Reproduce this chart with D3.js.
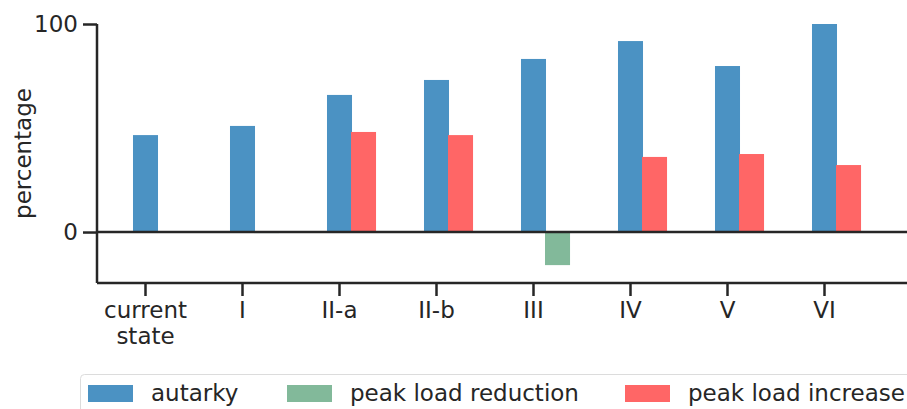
<!DOCTYPE html>
<html>
<head>
<meta charset="utf-8">
<script src="https://cdn.jsdelivr.net/npm/d3@7"></script>
<style>
  body { margin: 0; background: #fff; }
  svg { display: block; }
  svg text { font-family: "DejaVu Sans", sans-serif; }
</style>
</head>
<body>
<div id="vis"></div>
<script>
// scenario labels (x axis)
var scenarios = ['current state', 'I', 'II-a', 'II-b', 'III', 'IV', 'V', 'VI'];
// values, in percent
var autarky = [46.6, 51, 65.9, 73.1, 83.2, 91.8, 79.8, 100];
var peakLoadReduction = [null, -0.5, null, null, -15.9, null, null, null];
var peakLoadIncrease = [null, null, 48.1, 46.6, null, 36.1, 37.5, 32.2];
var yTicks = [0, 100];
var legendLabels = ['autarky', 'peak load reduction', 'peak load increase'];

var width = 907;
var height = 409;
var margin = { top: 24, left: 97, bottom: 126, right: 34 };
var fontSize = '23px';

var colors = {
  autarky: 'rgb(75,146,195)',
  reduction: 'rgb(130,185,154)',
  increase: 'rgb(255,102,102)'
};

var svg = d3.select('#vis').append('svg')
  .attr('width', width)
  .attr('height', height);

var x = d3.scaleBand()
  .domain(scenarios)
  .range([margin.left, width - margin.right]);

var y = d3.scaleLinear()
  .domain([-24.5, 100])
  .range([height - margin.bottom, margin.top]);

var barW = x.bandwidth() * 0.258;
var center = function (d) { return x(d) + x.bandwidth() / 2; };

// bars: autarky centred on the tick, the peak load bar just right of it
var g = svg.append('g');

g.selectAll('.autarky')
  .data(scenarios)
  .enter().append('rect')
  .attr('class', 'autarky')
  .attr('x', function (d) { return center(d) - barW / 2; })
  .attr('width', barW)
  .attr('y', function (d, i) { return y(autarky[i]); })
  .attr('height', function (d, i) { return y(0) - y(autarky[i]); })
  .attr('fill', colors.autarky);

function secondBars(values, cls, color) {
  var items = scenarios.map(function (d, i) { return { s: d, v: values[i] }; })
    .filter(function (d) { return d.v !== null; });
  g.selectAll('.' + cls)
    .data(items)
    .enter().append('rect')
    .attr('class', cls)
    .attr('x', function (d) { return center(d.s) + barW / 2 - 1; })
    .attr('width', barW)
    .attr('y', function (d) { return y(Math.max(0, d.v)); })
    .attr('height', function (d) { return Math.abs(y(d.v) - y(0)); })
    .attr('fill', color);
}
secondBars(peakLoadReduction, 'reduction', colors.reduction);
secondBars(peakLoadIncrease, 'increase', colors.increase);

var ink = '#262626';

// zero line across the plot
svg.append('line')
  .attr('x1', margin.left).attr('x2', width)
  .attr('y1', y(0)).attr('y2', y(0))
  .attr('stroke', ink).attr('stroke-width', 2.5);

// y axis
var yAxis = svg.append('g')
  .attr('transform', 'translate(' + margin.left + ',0)')
  .call(d3.axisLeft(y).tickValues(yTicks).tickSize(14).tickPadding(5).tickSizeOuter(0))
  .attr('font-family', null)
  .attr('font-size', null);
yAxis.select('.domain').remove();
yAxis.append('line')
  .attr('y1', y(100)).attr('y2', y(-24.5))
  .attr('stroke', ink).attr('stroke-width', 2.5);
yAxis.selectAll('.tick line').attr('stroke', ink).attr('stroke-width', 2.5);
yAxis.selectAll('.tick text')
  .attr('fill', ink)
  .style('font-size', fontSize);

// x axis
var xAxis = svg.append('g')
  .attr('transform', 'translate(0,' + y(-24.5) + ')')
  .call(d3.axisBottom(x).tickSize(13).tickSizeOuter(0).tickFormat(''))
  .attr('font-family', null)
  .attr('font-size', null);
xAxis.select('.domain').remove();
xAxis.append('line')
  .attr('x1', margin.left).attr('x2', width)
  .attr('stroke', ink).attr('stroke-width', 2.5);
xAxis.selectAll('.tick line').attr('stroke', ink).attr('stroke-width', 2.5);
xAxis.selectAll('.tick text').remove();
xAxis.selectAll('.tick').each(function (d) {
  var words = d.split(' ');
  var t = d3.select(this).append('text')
    .attr('fill', ink)
    .attr('text-anchor', 'middle')
    .style('font-size', fontSize);
  words.forEach(function (w, i) {
    t.append('tspan').attr('x', 0).attr('y', 35 + i * 26).text(w);
  });
});

// y label
svg.append('text')
  .attr('transform', 'translate(31,' + ((y(100) + y(-24.5)) / 2) + ') rotate(-90)')
  .attr('text-anchor', 'middle')
  .attr('fill', ink)
  .style('font-size', fontSize)
  .text('percentage');

// legend
var legend = svg.append('g');
legend.append('rect')
  .attr('x', 80.5).attr('y', 374.5)
  .attr('width', 840).attr('height', 50)
  .attr('rx', 4)
  .attr('fill', '#fff')
  .attr('stroke', '#dcdcdc');
var legendX = [88, 287, 625];
var legendColors = [colors.autarky, colors.reduction, colors.increase];
legendLabels.forEach(function (label, i) {
  legend.append('rect')
    .attr('x', legendX[i]).attr('y', 385)
    .attr('width', 45).attr('height', 17)
    .attr('fill', legendColors[i]);
  legend.append('text')
    .attr('x', legendX[i] + 63).attr('y', 401)
    .attr('fill', ink)
    .style('font-size', fontSize)
    .text(label);
});
</script>
</body>
</html>
